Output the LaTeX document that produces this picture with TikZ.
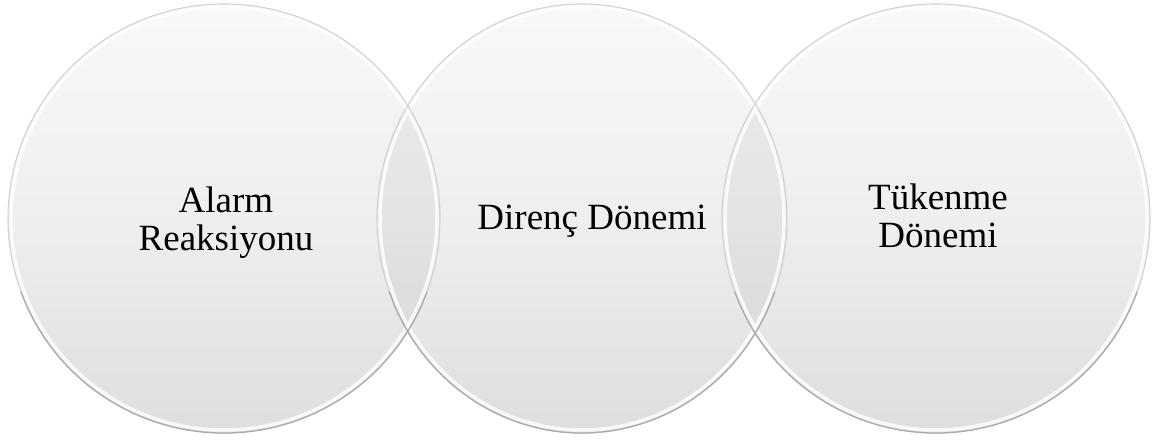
\documentclass[tikz,border=0pt]{standalone}
\usepackage{fontspec}
\setmainfont{Liberation Serif}
\usetikzlibrary{shapes.geometric}
\begin{document}
\begin{tikzpicture}[x=1pt,y=1pt,
  disc/.style={ellipse, inner sep=0pt, draw=none,
    top color=gray!5, bottom color=gray!26, middle color=gray!13},
  glow/.style={white, line width=3.5pt, opacity=0.8},
  lens/.style={black, opacity=0.045},
  rimtop/.style={gray!35, line width=1.1pt},
  rimbot/.style={gray!65, line width=1.3pt, line cap=round},
  lbl/.style={align=center, font=\fontsize{37}{38}\selectfont, text=black, inner sep=0pt}
]
\useasboundingbox (0,0) rectangle (1159,443);
\fill[white] (0,0) rectangle (1159,443);
% discs
\node[disc, minimum width=432pt, minimum height=429pt] (L) at (224,224.5) {};
\node[disc, minimum width=410pt, minimum height=429pt] (M) at (582,224.5) {};
\node[disc, minimum width=428pt, minimum height=429pt] (R) at (936,224.5) {};
% overlaps darker
\begin{scope}
  \clip (L.center) ellipse [x radius=216, y radius=214.5];
  \fill[lens] (M.center) ellipse [x radius=205, y radius=214.5];
\end{scope}
\begin{scope}
  \clip (M.center) ellipse [x radius=205, y radius=214.5];
  \fill[lens] (R.center) ellipse [x radius=214, y radius=214.5];
\end{scope}
% inner glows
\draw[glow] (L.center) ellipse [x radius=213, y radius=211.5];
\draw[glow] (M.center) ellipse [x radius=202, y radius=211.5];
\draw[glow] (R.center) ellipse [x radius=211, y radius=211.5];
% rims
\draw[rimtop] (L.center) ellipse [x radius=216, y radius=214.5];
\draw[rimtop] (M.center) ellipse [x radius=205, y radius=214.5];
\draw[rimtop] (R.center) ellipse [x radius=214, y radius=214.5];
\draw[rimbot] (L.center) ++(200:216 and 214.5) arc [start angle=200, end angle=340, x radius=216, y radius=214.5];
\draw[rimbot] (M.center) ++(200:205 and 214.5) arc [start angle=200, end angle=340, x radius=205, y radius=214.5];
\draw[rimbot] (R.center) ++(200:214 and 214.5) arc [start angle=200, end angle=340, x radius=214, y radius=214.5];
% labels
\node[lbl] (tL) at (226,220.5) {Alarm\\Reaksiyonu};
\node[lbl, anchor=base] (tM) at (592,213) {Direnç Dönemi};
\node[lbl] (tR) at (938,227) {Tükenme\\Dönemi};
\end{tikzpicture}
\end{document}
